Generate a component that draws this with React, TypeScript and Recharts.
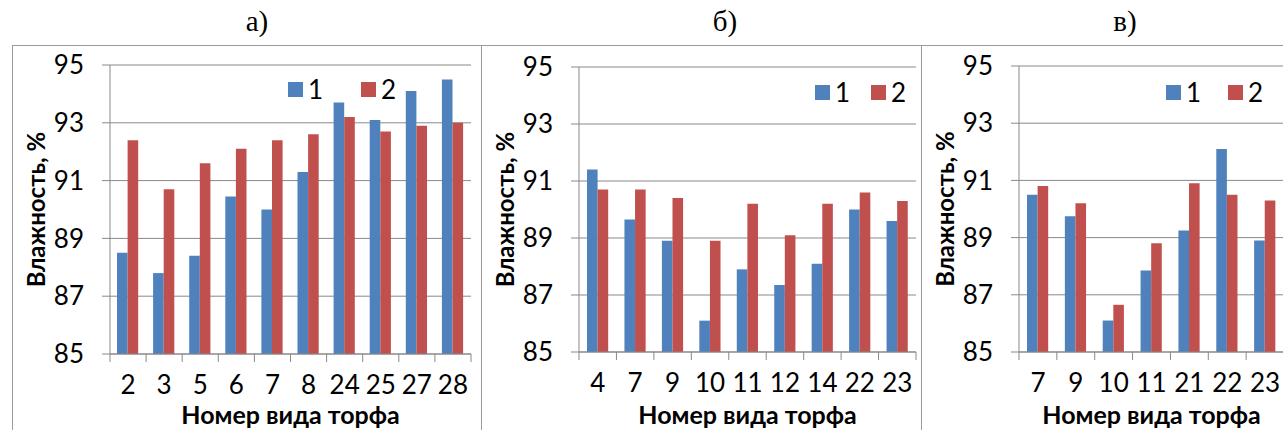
import React from "react";
import {
  BarChart,
  Bar,
  XAxis,
  YAxis,
  CartesianGrid,
  Legend,
  Label,
} from "recharts";

// panel а)
const catsA = ["2", "3", "5", "6", "7", "8", "24", "25", "27", "28"];
const s1A = [88.5, 87.8, 88.4, 90.45, 90.0, 91.3, 93.7, 93.1, 94.1, 94.5];
const s2A = [92.4, 90.7, 91.6, 92.1, 92.4, 92.6, 93.2, 92.7, 92.9, 93.0];

// panel б)
const catsB = ["4", "7", "9", "10", "11", "12", "14", "22", "23"];
const s1B = [91.4, 89.65, 88.9, 86.1, 87.9, 87.35, 88.1, 90.0, 89.6];
const s2B = [90.7, 90.7, 90.4, 88.9, 90.2, 89.1, 90.2, 90.6, 90.3];

// panel в)
const catsC = ["7", "9", "10", "11", "21", "22", "23"];
const s1C = [90.5, 89.75, 86.1, 87.85, 89.25, 92.1, 88.9];
const s2C = [90.8, 90.2, 86.65, 88.8, 90.9, 90.5, 90.3];

const yTicks = [85, 87, 89, 91, 93, 95];
const seriesNames = ["1", "2"];
const titles = ["а)", "б)", "в)"];
const yTitle = "Влажность, %";
const xTitle = "Номер вида торфа";

const BLUE = "#4F81BD";
const RED = "#C0504D";
const GRAY = "#898989";
const FRAME = "#9a9a9a";
const FONT = "Lato, 'Noto Sans', sans-serif";

const toRows = (cats: string[], a: number[], b: number[]) =>
  cats.map((c, i) => ({ cat: c, v1: a[i], v2: b[i] }));

const CatTick = (props: any) => {
  const { x, y, payload, index, visibleTicksCount } = props;
  const half = payload?.offset ?? 0;
  const last = index === visibleTicksCount - 1;
  return (
    <g>
      <line x1={x - half} x2={x - half} y1={y} y2={y + 8} stroke={GRAY} />
      {last && <line x1={x + half} x2={x + half} y1={y} y2={y + 8} stroke={GRAY} />}
      <text x={x} y={y + 40} textAnchor="middle" fontSize={26} fontFamily={FONT} fill="#000">
        {payload.value}
      </text>
    </g>
  );
};

const makeLegend = (gap: number) => (props: any) => {
  const items = props.payload || [];
  return (
    <div style={{ display: "flex", alignItems: "center", height: 26 }}>
      {items.map((it: any, i: number) => (
        <div
          key={i}
          style={{ display: "flex", alignItems: "center", marginRight: i < items.length - 1 ? gap : 0 }}
        >
          <span style={{ width: 15, height: 15, background: it.color, marginRight: 5, display: "inline-block" }} />
          <span style={{ fontSize: 26, fontFamily: FONT, lineHeight: "26px", color: "#000" }}>{it.value}</span>
        </div>
      ))}
    </div>
  );
};

type PanelProps = {
  rows: { cat: string; v1: number; v2: number }[];
  width: number;
  top: number;
  right: number;
  xHeight: number;
  legendLeft: number;
  legendTop: number;
  legendGap: number;
};

const Panel = ({ rows, width, top, right, xHeight, legendLeft, legendTop, legendGap }: PanelProps) => (
  <BarChart
    width={width}
    height={385}
    data={rows}
    margin={{ top, right, left: 0, bottom: 0 }}
    barGap={0}
    barSize={10.6}
  >
    <CartesianGrid vertical={false} stroke={GRAY} strokeWidth={1} />
    <XAxis
      dataKey="cat"
      height={xHeight}
      axisLine={{ stroke: GRAY }}
      tickLine={false}
      tickSize={0}
      tickMargin={0}
      interval={0}
      tick={<CatTick />}
    >
      <Label
        value={xTitle}
        position="insideBottom"
        offset={7}
        style={{ fontWeight: 700, fontSize: 25, fontFamily: FONT, fill: "#000" }}
      />
    </XAxis>
    <YAxis
      width={97}
      domain={[85, 95]}
      ticks={yTicks}
      interval={0}
      axisLine={{ stroke: GRAY }}
      tickLine={{ stroke: GRAY }}
      tickSize={8}
      tickMargin={18}
      tick={{ fontSize: 26, fontFamily: FONT, fill: "#000" }}
    >
      <Label
        value={yTitle}
        angle={-90}
        position="insideLeft"
        offset={23}
        style={{ textAnchor: "middle", fontWeight: 700, fontSize: 24, fontFamily: FONT, fill: "#000" }}
      />
    </YAxis>
    <Legend
      layout="horizontal"
      verticalAlign="middle"
      align="center"
      content={makeLegend(legendGap)}
      wrapperStyle={{ top: legendTop, left: legendLeft, width: "auto", height: 26 }}
    />
    <Bar dataKey="v1" name={seriesNames[0]} fill={BLUE} isAnimationActive={false} />
    <Bar dataKey="v2" name={seriesNames[1]} fill={RED} isAnimationActive={false} />
  </BarChart>
);

const titleStyle = (cx: number): React.CSSProperties => ({
  position: "absolute",
  left: cx - 40,
  width: 80,
  top: 5,
  textAlign: "center",
  fontFamily: "'Liberation Serif', 'DejaVu Serif', serif",
  fontSize: 29,
  lineHeight: "32px",
  color: "#000",
});

const frameStyle = (left: number, width: number): React.CSSProperties => ({
  position: "absolute",
  left,
  top: 45,
  width,
  height: 385,
  borderLeft: `1px solid ${FRAME}`,
  borderTop: `1px solid ${FRAME}`,
  boxSizing: "border-box",
  overflow: "hidden",
});

export default function App() {
  return (
    <div
      style={{
        position: "fixed",
        left: 0,
        top: 0,
        width: 1283,
        height: 430,
        overflow: "hidden",
        background: "#fff",
      }}
    >
      <div style={titleStyle(257)}>{titles[0]}</div>
      <div style={titleStyle(725)}>{titles[1]}</div>
      <div style={titleStyle(1125)}>{titles[2]}</div>

      <div style={frameStyle(12, 469)}>
        <Panel
          rows={toRows(catsA, s1A, s2A)}
          width={469}
          top={19}
          right={11}
          xHeight={77}
          legendLeft={275}
          legendTop={30}
          legendGap={38}
        />
      </div>
      <div style={frameStyle(481, 440)}>
        <Panel
          rows={toRows(catsB, s1B, s2B)}
          width={440}
          top={21}
          right={6}
          xHeight={79}
          legendLeft={333}
          legendTop={33}
          legendGap={21}
        />
      </div>
      <div style={frameStyle(921, 362)}>
        <Panel
          rows={toRows(catsC, s1C, s2C)}
          width={362}
          top={20}
          right={0}
          xHeight={79}
          legendLeft={244}
          legendTop={33}
          legendGap={27}
        />
      </div>
    </div>
  );
}
